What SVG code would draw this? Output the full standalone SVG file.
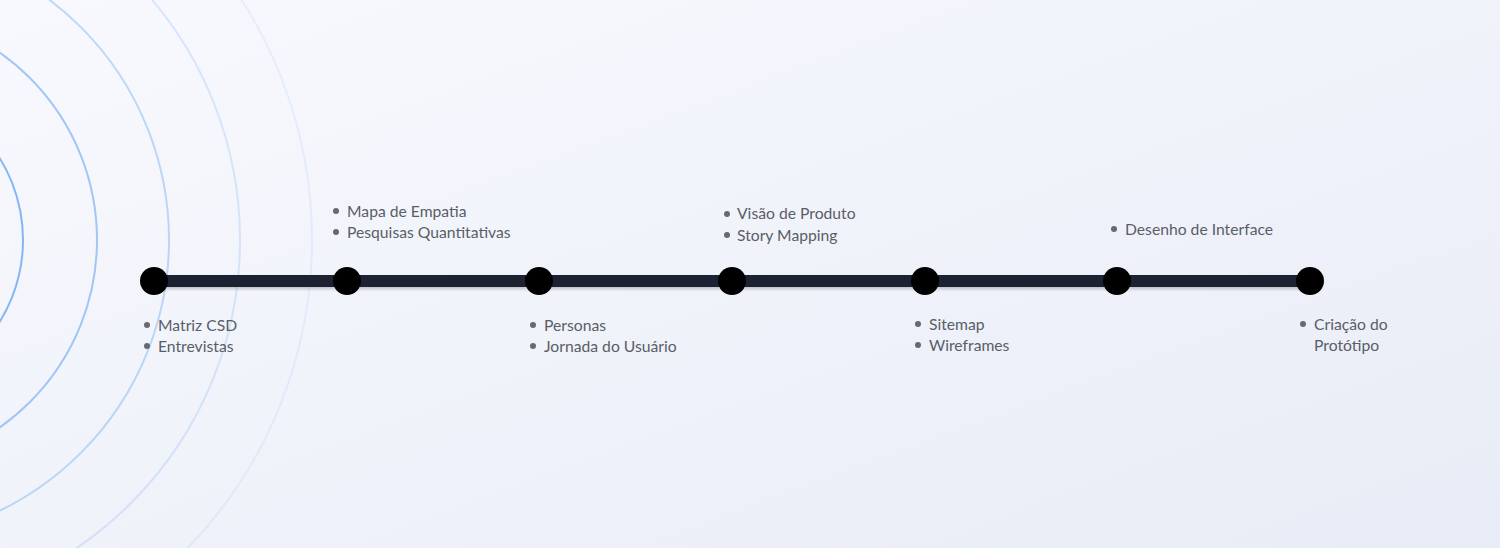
<svg xmlns="http://www.w3.org/2000/svg" width="1500" height="548" viewBox="0 0 1500 548">
<defs>
<linearGradient id="bg" x1="0" y1="0" x2="1" y2="1">
<stop offset="0" stop-color="#f8f9fe"/>
<stop offset="1" stop-color="#e8ecf6"/>
</linearGradient>
<filter id="sh" x="-5%" y="-100%" width="110%" height="300%">
<feDropShadow dx="0" dy="2" stdDeviation="1.5" flood-color="#1c2333" flood-opacity="0.25"/>
</filter>
<style>
.t{font-family:Lato,"Open Sans",sans-serif;font-size:15.7px;fill:#595e67}
.b{fill:#666a70}
.n{fill:#000}
.arc{fill:none;stroke:#3b8cf0;stroke-width:2}
</style>
</defs>
<rect width="1500" height="548" fill="url(#bg)"/>
<g id="rings">
<circle class="arc" cx="-132" cy="240" r="155" stroke-opacity="0.6"/>
<circle class="arc" cx="-132" cy="240" r="229" stroke-opacity="0.45"/>
<circle class="arc" cx="-132" cy="240" r="301" stroke-opacity="0.3"/>
<circle class="arc" cx="-132" cy="240" r="372" stroke-opacity="0.17"/>
<circle class="arc" cx="-132" cy="240" r="444" stroke-opacity="0.09"/>
</g>
<g id="connectors">
<rect x="154" y="275" width="1156" height="12" fill="#1c2231" filter="url(#sh)"/>
</g>
<g id="node1">
<circle class="n" cx="154" cy="281" r="14"/>
<circle class="b" cx="147" cy="325" r="3"/><text class="t" x="158" y="331">Matriz CSD</text>
<circle class="b" cx="147" cy="346" r="3"/><text class="t" x="158" y="352">Entrevistas</text>
</g>
<g id="node2">
<circle class="n" cx="347" cy="281" r="14"/>
<circle class="b" cx="336" cy="211" r="3"/><text class="t" x="347" y="217">Mapa de Empatia</text>
<circle class="b" cx="336" cy="232" r="3"/><text class="t" x="347" y="238">Pesquisas Quantitativas</text>
</g>
<g id="node3">
<circle class="n" cx="539" cy="281" r="14"/>
<circle class="b" cx="533" cy="325" r="3"/><text class="t" x="544" y="331">Personas</text>
<circle class="b" cx="533" cy="346" r="3"/><text class="t" x="544" y="352">Jornada do Usuário</text>
</g>
<g id="node4">
<circle class="n" cx="732" cy="281" r="14"/>
<circle class="b" cx="727" cy="214" r="3"/><text class="t" x="737" y="219">Visão de Produto</text>
<circle class="b" cx="727" cy="235" r="3"/><text class="t" x="737" y="241">Story Mapping</text>
</g>
<g id="node5">
<circle class="n" cx="925" cy="281" r="14"/>
<circle class="b" cx="918" cy="324" r="3"/><text class="t" x="929" y="330">Sitemap</text>
<circle class="b" cx="918" cy="345" r="3"/><text class="t" x="929" y="351">Wireframes</text>
</g>
<g id="node6">
<circle class="n" cx="1117" cy="281" r="14"/>
<circle class="b" cx="1114" cy="229" r="3"/><text class="t" x="1125" y="235">Desenho de Interface</text>
</g>
<g id="node7">
<circle class="n" cx="1310" cy="281" r="14"/>
<circle class="b" cx="1303" cy="324" r="3"/><text class="t" x="1314" y="330">Criação do</text>
<text class="t" x="1314" y="351">Protótipo</text>
</g>
</svg>
